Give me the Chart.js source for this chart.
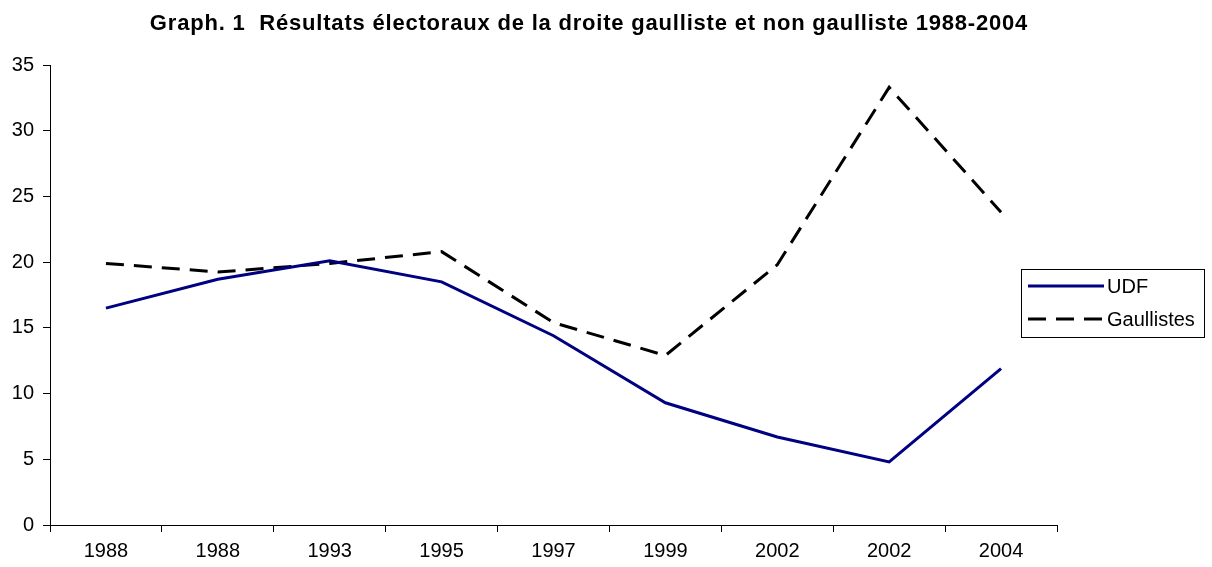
<!DOCTYPE html>
<html>
<head>
<meta charset="utf-8">
<script src="https://cdn.jsdelivr.net/npm/chart.js@4"></script>
<style>
    html, body { margin: 0; padding: 0; background: #fff; }
    #wrap { width: 1212px; height: 567px; }
</style>
</head>
<body>
<div id="wrap"><canvas id="line-canvas" width="1212" height="567"></canvas></div>
<script>
const title = 'Graph. 1  Résultats électoraux de la droite gaulliste et non gaulliste 1988-2004';
const years = ['1988', '1988', '1993', '1995', '1997', '1999', '2002', '2002', '2004'];
const udf = [16.5, 18.7, 20.1, 18.5, 14.4, 9.3, 6.7, 4.8, 11.9];
const gaullistes = [19.9, 19.25, 19.9, 20.8, 15.4, 12.9, 19.8, 33.3, 23.8];
const yTicks = [0, 5, 10, 15, 20, 25, 30, 35];

const FONT = '"Liberation Sans", Arial, sans-serif';

// title and boxed legend, the way the spreadsheet drew them
const decorations = {
    id: 'decorations',
    afterDraw(chart) {
        const ctx = chart.ctx;
        ctx.save();
        ctx.fillStyle = '#000';
        ctx.font = 'bold 22px ' + FONT;
        ctx.letterSpacing = '0.8px';
        ctx.textAlign = 'center';
        ctx.textBaseline = 'middle';
        ctx.fillText(title, 589, 24);
        ctx.letterSpacing = '0px';

        ctx.strokeStyle = '#000';
        ctx.lineWidth = 1;
        ctx.strokeRect(1021.5, 269.5, 183, 68);

        ctx.font = '20px ' + FONT;
        ctx.textAlign = 'left';
        chart.data.datasets.forEach((ds, i) => {
            const y = 286 + i * 33;
            ctx.beginPath();
            ctx.setLineDash(ds.borderDash || []);
            ctx.strokeStyle = ds.borderColor;
            ctx.lineWidth = 3;
            ctx.moveTo(1028, y);
            ctx.lineTo(1104, y);
            ctx.stroke();
            ctx.setLineDash([]);
            ctx.fillStyle = '#000';
            ctx.fillText(ds.label, 1107, y + 1);
        });
        ctx.restore();
    }
};

const ctx = document.getElementById('line-canvas').getContext('2d');
new Chart(ctx, {
    type: 'line',
    data: {
        labels: years,
        datasets: [{
            label: 'UDF',
            data: udf,
            borderColor: '#000080',
            borderWidth: 3,
            pointRadius: 0,
            tension: 0
        }, {
            label: 'Gaullistes',
            data: gaullistes,
            borderColor: '#000000',
            borderWidth: 3,
            borderDash: [18, 10],
            pointRadius: 0,
            tension: 0
        }]
    },
    options: {
        responsive: false,
        animation: false,
        layout: { padding: { top: 65, right: 155, left: 0, bottom: 0 } },
        plugins: {
            legend: { display: false },
            title: { display: false },
            tooltip: { enabled: false }
        },
        scales: {
            x: {
                offset: true,
                grid: { offset: true, drawOnChartArea: false, tickLength: 7, color: '#000' },
                border: { color: '#000' },
                ticks: { color: '#000', font: { family: FONT, size: 20 }, padding: 7, maxRotation: 0, autoSkip: false },
                afterFit(scale) { scale.height = 42; }
            },
            y: {
                min: 0,
                max: 35,
                afterBuildTicks(scale) { scale.ticks = yTicks.map(v => ({ value: v })); },
                grid: { drawOnChartArea: false, tickLength: 7, color: '#000' },
                border: { color: '#000' },
                ticks: { color: '#000', font: { family: FONT, size: 20 }, padding: 9 },
                afterFit(scale) { scale.width = 50; }
            }
        }
    },
    plugins: [decorations]
});
</script>
</body>
</html>
